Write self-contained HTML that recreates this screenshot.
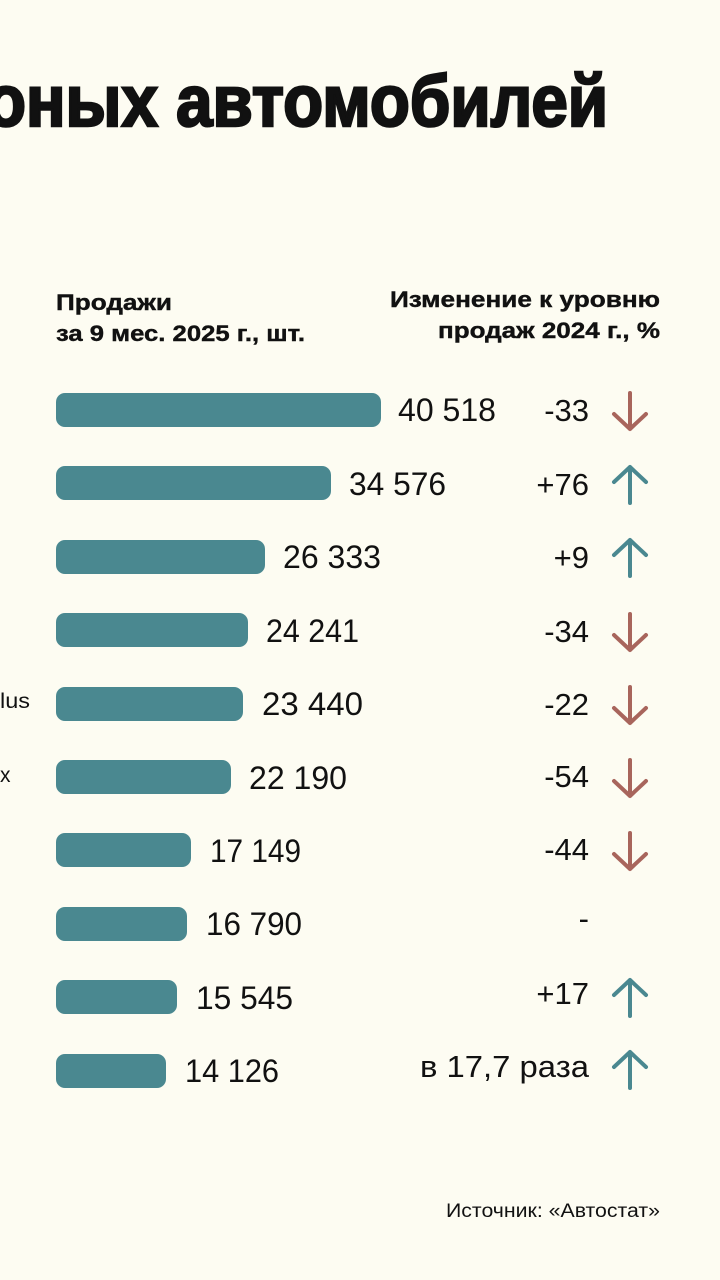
<!DOCTYPE html>
<html><head><meta charset="utf-8"><style>
html,body{margin:0;padding:0;background:#fdfcf2}
svg{display:block}
text{font-family:"Liberation Sans",sans-serif;fill:#111}
</style></head><body>
<svg width="720" height="1280" viewBox="0 0 720 1280" xmlns="http://www.w3.org/2000/svg">
<rect width="720" height="1280" fill="#fdfcf2"/>
<text x="-14" y="126" font-size="72" font-weight="bold" stroke="#111" stroke-width="2.5" textLength="622" lengthAdjust="spacingAndGlyphs">оных автомобилей</text>
<g font-weight="bold" font-size="22" stroke="#111" stroke-width="0.4">
<text x="56" y="310" textLength="116" lengthAdjust="spacingAndGlyphs">Продажи</text>
<text x="56" y="341" textLength="249" lengthAdjust="spacingAndGlyphs">за 9 мес. 2025 г., шт.</text>
<text x="390" y="307" textLength="270" lengthAdjust="spacingAndGlyphs">Изменение к уровню</text>
<text x="438" y="338" textLength="222" lengthAdjust="spacingAndGlyphs">продаж 2024 г., %</text>
</g>
<text x="0" y="708" font-size="21" textLength="30" lengthAdjust="spacingAndGlyphs">lus</text>
<text x="0" y="782" font-size="21">x</text>
<g fill="#4a8890">
<rect x="56" y="393" width="325" height="34" rx="9"/>
<rect x="56" y="466" width="275" height="34" rx="9"/>
<rect x="56" y="540" width="209" height="34" rx="9"/>
<rect x="56" y="613" width="192" height="34" rx="9"/>
<rect x="56" y="687" width="187" height="34" rx="9"/>
<rect x="56" y="760" width="175" height="34" rx="9"/>
<rect x="56" y="833" width="135" height="34" rx="9"/>
<rect x="56" y="907" width="131" height="34" rx="9"/>
<rect x="56" y="980" width="121" height="34" rx="9"/>
<rect x="56" y="1054" width="110" height="34" rx="9"/>
</g>
<g font-size="32">
<text x="398" y="421" textLength="98" lengthAdjust="spacingAndGlyphs">40 518</text>
<text x="349" y="495" textLength="97" lengthAdjust="spacingAndGlyphs">34 576</text>
<text x="283" y="568" textLength="98" lengthAdjust="spacingAndGlyphs">26 333</text>
<text x="266" y="642" textLength="93" lengthAdjust="spacingAndGlyphs">24 241</text>
<text x="262" y="715" textLength="101" lengthAdjust="spacingAndGlyphs">23 440</text>
<text x="249" y="789" textLength="98" lengthAdjust="spacingAndGlyphs">22 190</text>
<text x="210" y="862" textLength="91" lengthAdjust="spacingAndGlyphs">17 149</text>
<text x="206" y="935" textLength="96" lengthAdjust="spacingAndGlyphs">16 790</text>
<text x="196" y="1009" textLength="97" lengthAdjust="spacingAndGlyphs">15 545</text>
<text x="185" y="1082" textLength="94" lengthAdjust="spacingAndGlyphs">14 126</text>
</g>
<g font-size="31" text-anchor="end">
<text x="589" y="421">-33</text>
<text x="589" y="495">+76</text>
<text x="589" y="568">+9</text>
<text x="589" y="642">-34</text>
<text x="589" y="715">-22</text>
<text x="589" y="787">-54</text>
<text x="589" y="860">-44</text>
<text x="589" y="929">-</text>
<text x="589" y="1004">+17</text>
<text x="589" y="1077" textLength="169" lengthAdjust="spacingAndGlyphs">в 17,7 раза</text>
</g>
<g fill="none" stroke-width="4" stroke-linecap="round" stroke-linejoin="round">
<g stroke="#a8655c">
<path d="M630 393V429M614 414L630 429L646 414"/>
<path d="M630 614V650M614 635L630 650L646 635"/>
<path d="M630 687V723M614 708L630 723L646 708"/>
<path d="M630 760V796M614 781L630 796L646 781"/>
<path d="M630 833V869M614 854L630 869L646 854"/>
</g>
<g stroke="#4a8890">
<path d="M630 467V503M614 482L630 467L646 482"/>
<path d="M630 540V576M614 555L630 540L646 555"/>
<path d="M630 980V1016M614 995L630 980L646 995"/>
<path d="M630 1052V1088M614 1067L630 1052L646 1067"/>
</g>
</g>
<text x="446" y="1217" font-size="19" textLength="214" lengthAdjust="spacingAndGlyphs">Источник: «Автостат»</text>
</svg>
</body></html>
